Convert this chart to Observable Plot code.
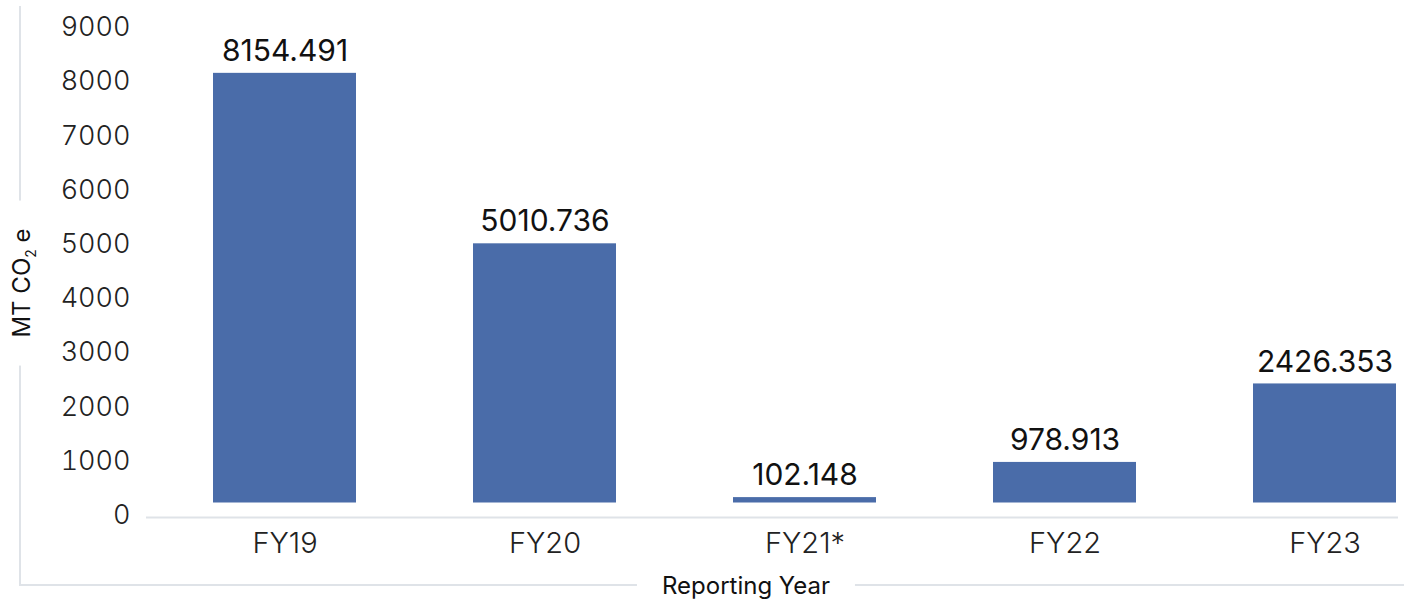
<!DOCTYPE html>
<html>
<head>
<meta charset="utf-8">
<script src="https://cdn.jsdelivr.net/npm/d3@7"></script>
<script src="https://cdn.jsdelivr.net/npm/@observablehq/plot@0.6"></script>
<style>
  html, body { margin: 0; padding: 0; background: #fff; }
  #wrap { position: relative; width: 1413px; height: 605px; font-family: Inter, "Noto Sans", sans-serif; font-weight: 300; }
  #frame { position: absolute; left: 19px; top: 6px; width: 1383px; height: 578px;
           border-left: 2px solid #dfe3e8; border-bottom: 2px solid #dfe3e8; box-sizing: content-box; }
  #chart { position: absolute; left: 0; top: 0; }
  .ytitle { position: absolute; left: 22px; top: 283px; transform: translate(-50%, -50%) rotate(-90deg);
            background: #fff; padding: 0 28px; font-size: 24px; color: #111; white-space: nowrap; line-height: 28px; font-weight: 400; }
  .xtitle { position: absolute; left: 746px; top: 586px; transform: translate(-50%, -50%);
            background: #fff; padding: 0 25px; font-size: 24px; color: #111; white-space: nowrap; line-height: 28px; font-weight: 400; }
  sub { font-size: 14px; vertical-align: -6px; line-height: 0; }
</style>
</head>
<body>
<div id="wrap">
  <div id="frame"></div>
  <div id="chart"></div>
  <div class="ytitle">MT CO<sub>2</sub> e</div>
  <div class="xtitle">Reporting Year</div>
</div>
<script>
const years = ["FY19", "FY20", "FY21*", "FY22", "FY23"];
const emissions = [8154.491, 5010.736, 102.148, 978.913, 2426.353];
const yTicks = [0, 1000, 2000, 3000, 4000, 5000, 6000, 7000, 8000, 9000];
const minVisibleBar = 330;

const data = years.map((year, i) => ({ year, value: emissions[i] }));
const shown = d => Math.max(d.value, minVisibleBar);

const chart = Plot.plot({
  width: 1413,
  height: 605,
  marginTop: 27,
  marginBottom: 90,
  marginLeft: 212,
  marginRight: 16,
  style: { fontFamily: "Inter, 'Noto Sans', sans-serif", fontWeight: 300, background: "transparent" },
  x: { domain: years, paddingInner: 0.451, paddingOuter: 0, label: null },
  y: { domain: [0, 9000], label: null },
  marks: [
    Plot.ruleY([0], { stroke: "#dfe3e8", strokeWidth: 2, dy: 2, insetLeft: -66, insetRight: -1 }),
    Plot.rectY(data, { x: "year", y1: 0, y2: shown, fill: "#4a6ca9", insetBottom: 12.5 }),
    Plot.text(data, { x: "year", y: shown, text: d => d.value.toFixed(3), dy: -22, fontSize: 30, fontWeight: 400, fill: "#111" }),
    Plot.axisY({ ticks: yTicks, tickSize: 0, tickPadding: 82, fontSize: 27, fontWeight: 300, color: "#222", label: null, tickFormat: d => String(d) }),
    Plot.axisX({ tickSize: 0, tickPadding: 17, fontSize: 29, fontWeight: 300, color: "#222", label: null })
  ]
});
document.getElementById("chart").appendChild(chart);
</script>
</body>
</html>
